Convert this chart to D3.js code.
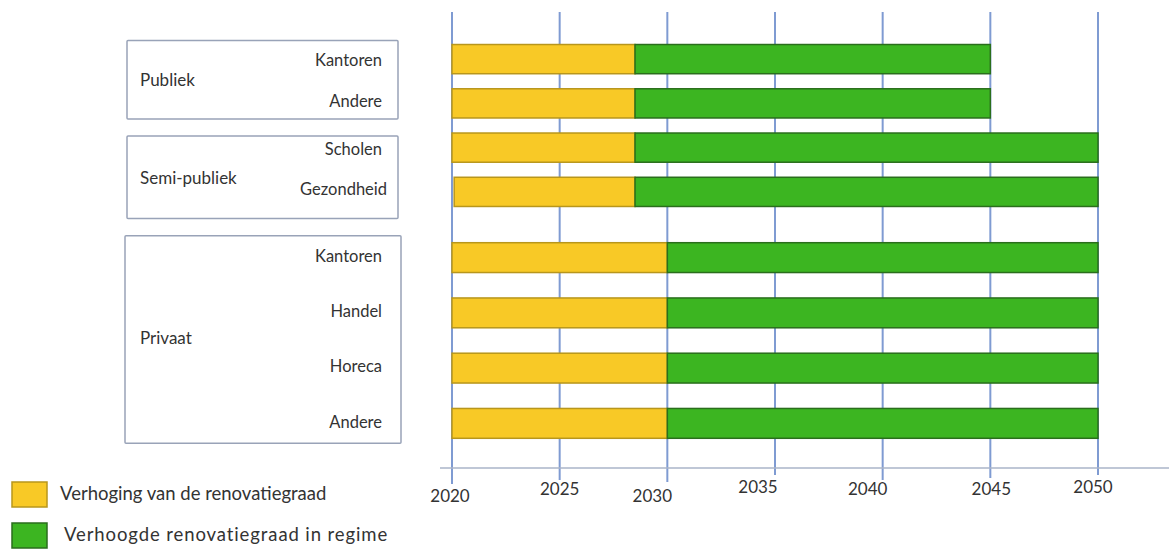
<!DOCTYPE html>
<html><head><meta charset="utf-8">
<script src="https://cdn.jsdelivr.net/npm/d3@7"></script>
<style>body{margin:0;background:#fff}svg{display:block}text{font-family:Lato,"Open Sans",sans-serif;fill:#333}</style>
</head><body><svg id="c" width="1169" height="552"></svg>
<script>
// ---- data ----
const groups = ["Publiek", "Semi-publiek", "Privaat"];
const categories = ["Kantoren", "Andere", "Scholen", "Gezondheid", "Kantoren", "Handel", "Horeca", "Andere"];
const categoryGroup = ["Publiek", "Publiek", "Semi-publiek", "Semi-publiek", "Privaat", "Privaat", "Privaat", "Privaat"];
const startYear = [2020, 2020, 2020, 2020.1, 2020, 2020, 2020, 2020];
const increaseEnd = [2028.5, 2028.5, 2028.5, 2028.5, 2030, 2030, 2030, 2030];
const regimeEnd = [2045, 2045, 2050, 2050, 2050, 2050, 2050, 2050];
const tickYears = [2020, 2025, 2030, 2035, 2040, 2045, 2050];
const legendLabels = ["Verhoging van de renovatiegraad", "Verhoogde renovatiegraad in regime"];

// ---- layout / style ----
const colors = {inc: "#F8C926", incStroke: "#b8961c", reg: "#3CB521", regStroke: "#2a6e1c", grid: "#7f9bd2", axis: "#aab4c8", box: "#99a3b8"};
const tickLabelDx = [-2, 0, -15, -17, -15, 1, -5];      // label nudges as drawn in the picture
const tickLabelY = [498, 491, 498, 489, 491, 491, 489];
const gridBottom = [484, 480, 482, 475, 480, 478, 475];
const boxSpec = {
  "Publiek": {x0: 127, x1: 398, top: -4, bot: 1},
  "Semi-publiek": {x0: 127, x1: 398, top: 3, bot: 12},
  "Privaat": {x0: 125, x1: 401, top: -7, bot: 5}
};

const svg = d3.select("#c");
const x = d3.scaleLinear().domain([2020, 2050]).range([452, 1098]);

const rows = categories.map((c, i) => ({cat: c, group: categoryGroup[i], s: startYear[i], m: increaseEnd[i], e: regimeEnd[i], key: i}));
const topRows = rows.filter(r => r.group !== "Privaat");
const botRows = rows.filter(r => r.group === "Privaat");
const yTop = d3.scaleBand().domain(topRows.map(r => r.key)).range([37, 214]).paddingInner(0.34).paddingOuter(0.17);
const yBot = d3.scaleBand().domain(botRows.map(r => r.key)).range([230, 451]).paddingInner(0.46).paddingOuter(0.23);
const yOf = r => r.group === "Privaat" ? yBot(r.key) : yTop(r.key);
const hOf = r => r.group === "Privaat" ? yBot.bandwidth() : yTop.bandwidth();

// gridlines
svg.append("g").selectAll("line").data(tickYears).join("line")
  .attr("x1", d => x(d)).attr("x2", d => x(d)).attr("y1", 12).attr("y2", (d, i) => gridBottom[i])
  .attr("stroke", colors.grid).attr("stroke-width", 2);
// horizontal axis line
svg.append("line").attr("x1", 440).attr("x2", 1169).attr("y1", 468).attr("y2", 468)
  .attr("stroke", colors.axis).attr("stroke-width", 1.5);
// tick labels
svg.append("g").selectAll("text").data(tickYears).join("text")
  .attr("x", (d, i) => x(d) + tickLabelDx[i]).attr("y", (d, i) => tickLabelY[i])
  .attr("text-anchor", "middle").attr("dominant-baseline", "middle")
  .attr("font-size", 17).text(d => d);

// bars
const bars = svg.append("g");
bars.selectAll("rect.inc").data(rows).join("rect").attr("class", "inc")
  .attr("x", r => x(r.s)).attr("width", r => x(r.m) - x(r.s))
  .attr("y", yOf).attr("height", hOf)
  .attr("fill", colors.inc).attr("stroke", colors.incStroke).attr("stroke-width", 1.5);
bars.selectAll("rect.reg").data(rows).join("rect").attr("class", "reg")
  .attr("x", r => x(r.m)).attr("width", r => x(r.e) - x(r.m))
  .attr("y", yOf).attr("height", hOf)
  .attr("fill", colors.reg).attr("stroke", colors.regStroke).attr("stroke-width", 1.5);

// group boxes
groups.forEach(g => {
  const b = boxSpec[g];
  const rs = rows.filter(r => r.group === g);
  const y0 = d3.min(rs, yOf) + b.top;
  const y1 = d3.max(rs, r => yOf(r) + hOf(r)) + b.bot;
  svg.append("rect").attr("x", b.x0).attr("y", y0).attr("width", b.x1 - b.x0).attr("height", y1 - y0)
    .attr("fill", "none").attr("stroke", colors.box).attr("stroke-width", 1.5).attr("rx", 1);
  svg.append("text").attr("x", 140).attr("y", g === "Privaat" ? 340 : (y0 + y1) / 2 + 2)
    .attr("dominant-baseline", "middle").attr("font-size", 17).text(g);
});
// category labels
svg.append("g").selectAll("text").data(rows).join("text")
  .attr("x", r => r.cat === "Gezondheid" ? 387 : 382)
  .attr("y", r => yOf(r) + hOf(r) / 2 + (r.group === "Privaat" ? 0 : (r.key % 2 === 0 ? 3 : -1)))
  .attr("text-anchor", "end").attr("dominant-baseline", "middle").attr("font-size", 16.5).text(r => r.cat);

// legend
const leg = svg.append("g");
legendLabels.forEach((l, i) => {
  const yy = 482 + i * 41;
  leg.append("rect").attr("x", 12).attr("y", yy).attr("width", 35).attr("height", 25)
    .attr("fill", i ? colors.reg : colors.inc).attr("stroke", i ? colors.regStroke : colors.incStroke).attr("stroke-width", 1.5);
  leg.append("text").attr("x", i ? 64 : 60).attr("y", yy + 13).attr("dominant-baseline", "middle")
    .attr("font-size", 18.5).attr("letter-spacing", i ? 0.9 : 0).text(l);
});
</script></body></html>
